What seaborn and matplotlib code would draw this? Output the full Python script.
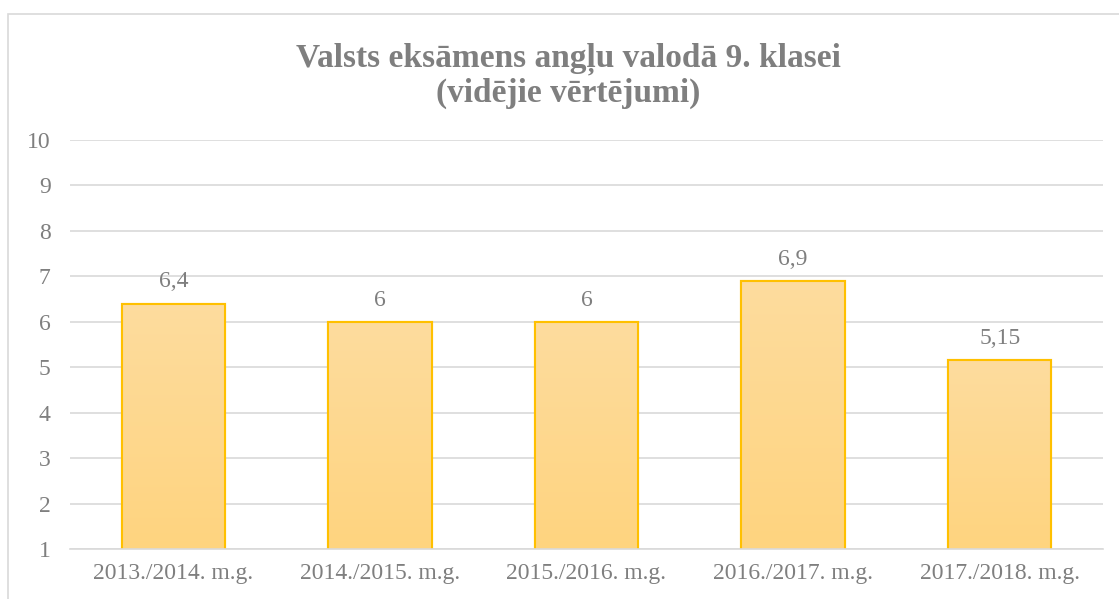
import numpy as np
import pandas as pd
import matplotlib
matplotlib.use("Agg")
import matplotlib.pyplot as plt
import seaborn as sns
from matplotlib.patches import Rectangle

categories = ["2013./2014. m.g.", "2014./2015. m.g.", "2015./2016. m.g.", "2016./2017. m.g.", "2017./2018. m.g."]
values = [6.4, 6.0, 6.0, 6.9, 5.15]
labels = ["6,4", "6", "6", "6,9", "5,15"]
yticks = [1, 2, 3, 4, 5, 6, 7, 8, 9, 10]
title = "Valsts eksāmens angļu valodā 9. klasei\n(vidējie vērtējumi)"

sns.set_theme(style="white")
plt.rcParams['font.family'] = ['Liberation Serif', 'DejaVu Serif']

TXT = "#7F7F7F"
df = pd.DataFrame({"cat": categories, "val": values})

fig = plt.figure(figsize=(11.19, 5.99), dpi=100)
ax = fig.add_axes([70/1119, 1 - 549/599, (1103-70)/1119, (549-140)/599])

sns.barplot(data=df, x="cat", y="val", ax=ax, color="#FDD88F", edgecolor="#FFC000",
            linewidth=1.5, width=0.5)

ax.set_ylim(1, 10)
ax.set_xlim(-0.5, len(categories) - 0.5)
ax.set_yticks(yticks)
ax.set_yticklabels([str(t) for t in yticks])
ax.yaxis.grid(True, color="#D9D9D9", linewidth=1.2)
ax.set_axisbelow(True)
for s in ["top", "right", "left"]:
    ax.spines[s].set_visible(False)
ax.spines["bottom"].set_color("#D9D9D9")
ax.spines["bottom"].set_linewidth(1.2)
ax.set_xlabel("")
ax.set_ylabel("")
ax.tick_params(axis="both", length=0, labelsize=17, labelcolor=TXT)
ax.tick_params(axis="y", pad=14)
ax.tick_params(axis="x", pad=10)

# gradient fill
grad = np.linspace(0, 1, 256).reshape(-1, 1)
cmap = matplotlib.colors.LinearSegmentedColormap.from_list("g", ["#FFD47F", "#FDDC9E"])
for p in list(ax.patches):
    x0, y0 = p.get_x(), p.get_y()
    w, h = p.get_width(), p.get_height()
    im = ax.imshow(grad, extent=[x0, x0 + w, max(y0, 1), y0 + h], origin="lower",
                   cmap=cmap, aspect="auto", zorder=p.get_zorder() + 0.1)
    im.set_clip_path(p)
    edge = Rectangle((x0, y0), w, h, fill=False, edgecolor="#FFC000", linewidth=1.5,
                     zorder=p.get_zorder() + 0.2)
    ax.add_patch(edge)
ax.set_xlim(-0.5, len(categories) - 0.5)
ax.set_ylim(1, 10)

for i, (v, lab) in enumerate(zip(values, labels)):
    ax.annotate(lab, (i, v), xytext=(0, 8), textcoords="offset points",
                ha="center", va="bottom", fontsize=17, color=TXT)

fig.text(568/1119, 1 - 76/599, title, ha="center", va="center", fontsize=24,
         fontweight="bold", color=TXT, linespacing=1.1, multialignment="center")

border = Rectangle((8/1119, -0.05), 1.2, 1 - 14/599 + 0.05, transform=fig.transFigure,
                   fill=False, edgecolor="#D9D9D9", linewidth=1.2)
fig.patches.append(border)

fig.savefig("out.png", dpi=100, facecolor="white")
